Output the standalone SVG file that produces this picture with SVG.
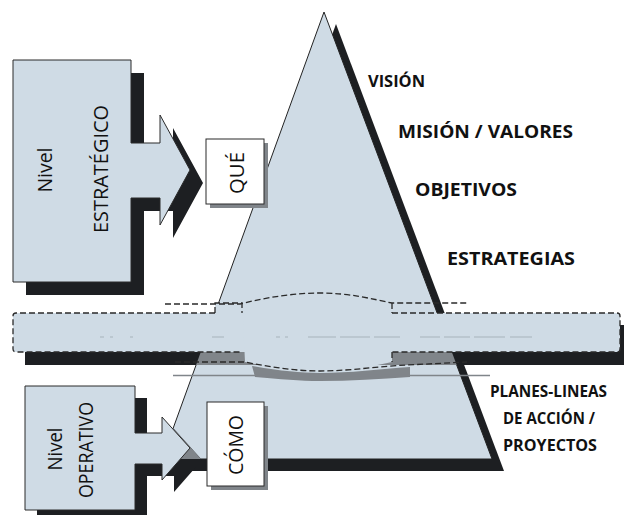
<svg xmlns="http://www.w3.org/2000/svg" width="624" height="515" viewBox="0 0 624 515">
<defs>
<clipPath id="pyrClip"><polygon points="324,12 492,459 162,459"/></clipPath>
<style>
.shadow{fill:#1d1f22}
.gray{fill:#80858a}
.light{fill:#cfdbe5}
.box{fill:#cfdbe5;stroke:#2b2b2b;stroke-width:1}
.wbox{fill:#ffffff;stroke:#2b2b2b;stroke-width:1}
.dash{fill:none;stroke:#2a2a2a;stroke-width:1.3;stroke-dasharray:6 3}
.lbl{font-family:"Open Sans","Liberation Sans",sans-serif;font-weight:700;fill:#111;font-size:18px}
.vt{font-family:"Open Sans","Liberation Sans",sans-serif;fill:#111;font-size:20px;text-anchor:middle}
</style>
</defs>

<g id="pyramid">
<polygon class="shadow" points="336,24 504,471 174,471"/>
<polygon points="324,12 492,459 162,459" fill="#cfdbe5" stroke="#222" stroke-width="1"/>
</g>

<g id="break-band">
<rect class="shadow" x="25" y="325" width="610" height="40"/>
<rect class="gray" x="25" y="325" width="610" height="40" clip-path="url(#pyrClip)"/>
<path class="gray" d="M252,366 C280,371 300,373 320,373 C350,373 380,369 410,367 L410,377 C380,379 350,381 320,381 C300,381 280,379 255,377 Z"/>
<path d="M173,375.5 H490" stroke="#80858a" stroke-width="1.6" fill="none"/>
<rect class="light" x="13" y="313" width="607" height="39" rx="3"/>
<path class="light" d="M242,300 C270,295 295,292 320,292 C350,292 372,298 392,303 V362 C370,367 345,371 320,371 C295,371 270,367 245,362 Z"/>
<rect class="light" x="215" y="303" width="27" height="10"/>
<path class="dash" d="M215,313 H16 Q13,313 13,316 V349 Q13,352 16,352 H242"/>
<path class="dash" d="M215,313 V303 H242 V313"/>
<path class="dash" d="M392,313 H617 Q620,313 620,316 V349 Q620,352 617,352 H392"/>
<path class="dash" d="M392,303 V313 M392,352 V362"/>
<path class="dash" d="M165,304 H240 C268,297 295,293 320,293 C350,293 372,299 392,303 H467"/>
<path class="dash" d="M175,362 H245 C270,367 295,371 320,371 C350,371 380,366 407,365 L467,362"/>
<path d="M100,337 H104 M110,337 H113 M130,337 H133 M212,337 H224 M276,337 H280 M285,337 H288 M308,337 H336 M340,337 H370 M374,337 H400 M420,337 H440 M444,337 H470 M474,337 H505 M510,337 H532" stroke="#8a939b" stroke-width="0.8" stroke-opacity="0.7" fill="none"/>
</g>

<g id="nivel-estrategico">
<polygon class="shadow" points="26,73 144,73 144,156 173,156 173,128 203,183 173,238 173,211 144,211 144,295 26,295"/>
<polygon class="box" points="13,60 131,60 131,143 160,143 160,115 190,170 160,225 160,198 131,198 131,282 13,282"/>
<text class="vt" transform="translate(52,170) rotate(-90)" textLength="45" lengthAdjust="spacingAndGlyphs">Nivel</text>
<text class="vt" transform="translate(108,169) rotate(-90)" textLength="128" lengthAdjust="spacingAndGlyphs">ESTRATÉGICO</text>
</g>

<g id="que">
<rect class="gray" x="210" y="143" width="58" height="65"/>
<rect class="wbox" x="206" y="139" width="58" height="65"/>
<text class="vt" transform="translate(244,173) rotate(-90)" textLength="42" lengthAdjust="spacingAndGlyphs">QUÉ</text>
</g>

<g id="nivel-operativo">
<polygon class="shadow" points="37,398 147,398 147,445 174,445 174,429 202,460 174,492 174,476 147,476 147,522 37,522"/>
<polygon class="gray" clip-path="url(#pyrClip)" points="37,398 147,398 147,445 174,445 174,429 202,460 174,492 174,476 147,476 147,522 37,522"/>
<polygon class="box" points="25,386 135,386 135,433 162,433 162,417 190,448 162,480 162,464 135,464 135,510 25,510"/>
<text class="vt" transform="translate(62,449) rotate(-90)" textLength="43" lengthAdjust="spacingAndGlyphs">Nivel</text>
<text class="vt" transform="translate(93,450) rotate(-90)" textLength="96" lengthAdjust="spacingAndGlyphs">OPERATIVO</text>
</g>

<g id="como">
<rect class="gray" x="211" y="406" width="57" height="84"/>
<rect class="wbox" x="207" y="402" width="57" height="84"/>
<text class="vt" transform="translate(243,445) rotate(-90)" textLength="60" lengthAdjust="spacingAndGlyphs">CÓMO</text>
</g>

<g id="labels">
<text class="lbl" x="368" y="87" style="font-size:16px" textLength="57" lengthAdjust="spacingAndGlyphs">VISIÓN</text>
<text class="lbl" x="398" y="138" textLength="175" lengthAdjust="spacingAndGlyphs">MISIÓN / VALORES</text>
<text class="lbl" x="415" y="196" textLength="102" lengthAdjust="spacingAndGlyphs">OBJETIVOS</text>
<text class="lbl" x="447" y="265" textLength="128" lengthAdjust="spacingAndGlyphs">ESTRATEGIAS</text>
<text class="lbl" x="490" y="397" style="font-size:15.5px" textLength="117" lengthAdjust="spacingAndGlyphs">PLANES-LINEAS</text>
<text class="lbl" x="503" y="424" style="font-size:15.5px" textLength="92" lengthAdjust="spacingAndGlyphs">DE ACCIÓN /</text>
<text class="lbl" x="503" y="451" style="font-size:15.5px" textLength="94" lengthAdjust="spacingAndGlyphs">PROYECTOS</text>
</g>
</svg>
